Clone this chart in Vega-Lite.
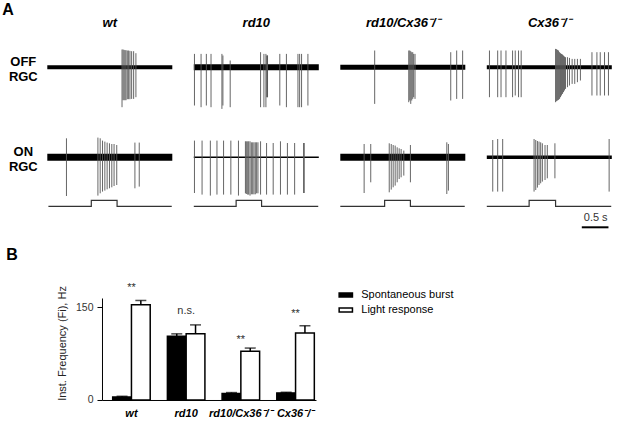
{
  "$schema": "https://vega.github.io/schema/vega-lite/v6.json",
  "background": "white",
  "padding": {"left": 2.3, "top": 2, "right": 5, "bottom": 5},
  "config": {"font": "Liberation Sans", "view": {"stroke": null}, "axis": {"grid": false}},
  "spacing": 17,
  "resolve": {"legend": {"fill": "independent"}},
  "vconcat": [
    {
      "title": {"text": "A", "anchor": "start", "fontSize": 16, "fontWeight": "bold", "color": "black", "frame": "group", "offset": -1, "dx": -45},
      "data": {"values": [
        {"g":"wt","c":"OFF RGC","k":"base","t":0,"t2":2.25,"lo":-2,"hi":2},
        {"g":"wt","c":"ON RGC","k":"base","t":0,"t2":2.25,"lo":-3.5,"hi":3.5},
        {"g":"rd10","c":"OFF RGC","k":"base","t":0,"t2":2.25,"lo":-3,"hi":3},
        {"g":"rd10","c":"ON RGC","k":"base","t":0,"t2":2.25,"lo":-0.8,"hi":0.8},
        {"g":"rd10/Cx36⁻/⁻","c":"OFF RGC","k":"base","t":0,"t2":2.25,"lo":-2.5,"hi":2.5},
        {"g":"rd10/Cx36⁻/⁻","c":"ON RGC","k":"base","t":0,"t2":2.25,"lo":-3.5,"hi":3.5},
        {"g":"Cx36⁻/⁻","c":"OFF RGC","k":"base","t":0,"t2":2.25,"lo":-2,"hi":2},
        {"g":"Cx36⁻/⁻","c":"ON RGC","k":"base","t":0,"t2":2.25,"lo":-1.8,"hi":1.8},

        {"g":"wt","c":"OFF RGC","k":"s","t":1.345,"lo":-40,"hi":17.7},
        {"g":"wt","c":"OFF RGC","k":"s","t":1.363,"lo":-33,"hi":17.7},
        {"g":"wt","c":"OFF RGC","k":"s","t":1.381,"lo":-33,"hi":17.3},
        {"g":"wt","c":"OFF RGC","k":"s","t":1.399,"lo":-33,"hi":17},
        {"g":"wt","c":"OFF RGC","k":"s","t":1.417,"lo":-33,"hi":17},
        {"g":"wt","c":"OFF RGC","k":"s","t":1.44,"lo":-32,"hi":16.7},
        {"g":"wt","c":"OFF RGC","k":"s","t":1.464,"lo":-32,"hi":16.7},
        {"g":"wt","c":"OFF RGC","k":"s","t":1.488,"lo":-32,"hi":16.3},
        {"g":"wt","c":"OFF RGC","k":"s","t":1.518,"lo":-31.7,"hi":16},
        {"g":"wt","c":"OFF RGC","k":"s","t":1.554,"lo":-31.7,"hi":16},
        {"g":"wt","c":"OFF RGC","k":"s","t":1.595,"lo":-30,"hi":14},

        {"g":"wt","c":"ON RGC","k":"s","t":0.345,"lo":-38.7,"hi":19},
        {"g":"wt","c":"ON RGC","k":"s","t":0.911,"lo":-38.3,"hi":19.7},
        {"g":"wt","c":"ON RGC","k":"s","t":0.952,"lo":-36,"hi":19},
        {"g":"wt","c":"ON RGC","k":"s","t":0.994,"lo":-34.3,"hi":16.7},
        {"g":"wt","c":"ON RGC","k":"s","t":1.036,"lo":-33.3,"hi":15.7},
        {"g":"wt","c":"ON RGC","k":"s","t":1.077,"lo":-32,"hi":14.7},
        {"g":"wt","c":"ON RGC","k":"s","t":1.119,"lo":-31,"hi":14},
        {"g":"wt","c":"ON RGC","k":"s","t":1.161,"lo":-30,"hi":13.3},
        {"g":"wt","c":"ON RGC","k":"s","t":1.202,"lo":-28.7,"hi":13.3},
        {"g":"wt","c":"ON RGC","k":"s","t":1.25,"lo":-27.7,"hi":12.3},
        {"g":"wt","c":"ON RGC","k":"s","t":1.577,"lo":-31,"hi":14.7},
        {"g":"wt","c":"ON RGC","k":"s","t":1.655,"lo":-29.3,"hi":14.7},

        {"g":"rd10","c":"OFF RGC","k":"s","t":0.012,"lo":-38.3,"hi":13.3},
        {"g":"rd10","c":"OFF RGC","k":"s","t":0.131,"lo":-40,"hi":13.3},
        {"g":"rd10","c":"OFF RGC","k":"s","t":0.226,"lo":-38.3,"hi":13.3},
        {"g":"rd10","c":"OFF RGC","k":"s","t":0.31,"lo":-40,"hi":13.3},
        {"g":"rd10","c":"OFF RGC","k":"s","t":0.506,"lo":-41.7,"hi":13.3},
        {"g":"rd10","c":"OFF RGC","k":"s","t":0.524,"lo":-38.3,"hi":11.7},
        {"g":"rd10","c":"OFF RGC","k":"s","t":0.655,"lo":-40,"hi":6.7},
        {"g":"rd10","c":"OFF RGC","k":"s","t":1.202,"lo":-40,"hi":15},
        {"g":"rd10","c":"OFF RGC","k":"s","t":1.262,"lo":-40,"hi":13.3},
        {"g":"rd10","c":"OFF RGC","k":"s","t":1.298,"lo":-40,"hi":13.3},
        {"g":"rd10","c":"OFF RGC","k":"s","t":1.315,"lo":-30,"hi":11.7},
        {"g":"rd10","c":"OFF RGC","k":"s","t":1.321,"lo":-30,"hi":11.7},
        {"g":"rd10","c":"OFF RGC","k":"s","t":1.327,"lo":-30,"hi":11.7},
        {"g":"rd10","c":"OFF RGC","k":"s","t":1.548,"lo":-38.3,"hi":13.3},
        {"g":"rd10","c":"OFF RGC","k":"s","t":1.667,"lo":-40,"hi":13.3},
        {"g":"rd10","c":"OFF RGC","k":"s","t":1.875,"lo":-40,"hi":13.3},
        {"g":"rd10","c":"OFF RGC","k":"s","t":1.905,"lo":-40,"hi":13.3},
        {"g":"rd10","c":"OFF RGC","k":"s","t":1.94,"lo":-40,"hi":13.3},
        {"g":"rd10","c":"OFF RGC","k":"s","t":2.054,"lo":-38.3,"hi":13.3},

        {"g":"rd10","c":"ON RGC","k":"s","t":0.012,"lo":-35.7,"hi":16.7},
        {"g":"rd10","c":"ON RGC","k":"s","t":0.149,"lo":-37.3,"hi":16.7},
        {"g":"rd10","c":"ON RGC","k":"s","t":0.298,"lo":-38.3,"hi":16.7},
        {"g":"rd10","c":"ON RGC","k":"s","t":0.417,"lo":-37.3,"hi":16.7},
        {"g":"rd10","c":"ON RGC","k":"s","t":0.536,"lo":-37.3,"hi":16.7},
        {"g":"rd10","c":"ON RGC","k":"s","t":0.667,"lo":-37.3,"hi":16.7},
        {"g":"rd10","c":"ON RGC","k":"s","t":0.804,"lo":-38.3,"hi":16.7},
        {"g":"rd10","c":"ON RGC","k":"s","t":0.929,"lo":-36,"hi":16},
        {"g":"rd10","c":"ON RGC","k":"s","t":0.946,"lo":-36.7,"hi":16},
        {"g":"rd10","c":"ON RGC","k":"s","t":0.97,"lo":-37.3,"hi":16},
        {"g":"rd10","c":"ON RGC","k":"s","t":0.988,"lo":-37.3,"hi":16},
        {"g":"rd10","c":"ON RGC","k":"s","t":1.012,"lo":-38.3,"hi":16},
        {"g":"rd10","c":"ON RGC","k":"s","t":1.036,"lo":-37,"hi":15},
        {"g":"rd10","c":"ON RGC","k":"s","t":1.06,"lo":-37,"hi":15},
        {"g":"rd10","c":"ON RGC","k":"s","t":1.083,"lo":-37,"hi":15},
        {"g":"rd10","c":"ON RGC","k":"s","t":1.107,"lo":-37,"hi":15},
        {"g":"rd10","c":"ON RGC","k":"s","t":1.131,"lo":-36,"hi":15},
        {"g":"rd10","c":"ON RGC","k":"s","t":1.155,"lo":-36,"hi":15},
        {"g":"rd10","c":"ON RGC","k":"s","t":1.202,"lo":-37.3,"hi":16},
        {"g":"rd10","c":"ON RGC","k":"s","t":1.31,"lo":-37.3,"hi":14.3},
        {"g":"rd10","c":"ON RGC","k":"s","t":1.429,"lo":-37.3,"hi":14.3},
        {"g":"rd10","c":"ON RGC","k":"s","t":1.56,"lo":-37.3,"hi":16},
        {"g":"rd10","c":"ON RGC","k":"s","t":1.685,"lo":-37.3,"hi":14.3},
        {"g":"rd10","c":"ON RGC","k":"s","t":1.815,"lo":-37.3,"hi":14.3},
        {"g":"rd10","c":"ON RGC","k":"s","t":1.976,"lo":-35.7,"hi":14.3},
        {"g":"rd10","c":"ON RGC","k":"s","t":1.988,"lo":-35.7,"hi":14.3},

        {"g":"rd10/Cx36⁻/⁻","c":"OFF RGC","k":"s","t":0.619,"lo":-36.7,"hi":16.7},
        {"g":"rd10/Cx36⁻/⁻","c":"OFF RGC","k":"s","t":1.232,"lo":-35,"hi":16.7},
        {"g":"rd10/Cx36⁻/⁻","c":"OFF RGC","k":"s","t":1.25,"lo":-33.3,"hi":16.7},
        {"g":"rd10/Cx36⁻/⁻","c":"OFF RGC","k":"s","t":1.268,"lo":-36.7,"hi":16},
        {"g":"rd10/Cx36⁻/⁻","c":"OFF RGC","k":"s","t":1.286,"lo":-33.3,"hi":15},
        {"g":"rd10/Cx36⁻/⁻","c":"OFF RGC","k":"s","t":1.304,"lo":-31.7,"hi":15},
        {"g":"rd10/Cx36⁻/⁻","c":"OFF RGC","k":"s","t":1.321,"lo":-30,"hi":13.3},
        {"g":"rd10/Cx36⁻/⁻","c":"OFF RGC","k":"s","t":1.345,"lo":-31.7,"hi":13.3},
        {"g":"rd10/Cx36⁻/⁻","c":"OFF RGC","k":"s","t":1.988,"lo":-33.3,"hi":15},
        {"g":"rd10/Cx36⁻/⁻","c":"OFF RGC","k":"s","t":2.095,"lo":-31.7,"hi":16.7},
        {"g":"rd10/Cx36⁻/⁻","c":"OFF RGC","k":"s","t":2.202,"lo":-31.7,"hi":16.7},

        {"g":"rd10/Cx36⁻/⁻","c":"ON RGC","k":"s","t":0.429,"lo":-35.7,"hi":13.3},
        {"g":"rd10/Cx36⁻/⁻","c":"ON RGC","k":"s","t":0.548,"lo":-25,"hi":13.3},
        {"g":"rd10/Cx36⁻/⁻","c":"ON RGC","k":"s","t":0.881,"lo":-35,"hi":14},
        {"g":"rd10/Cx36⁻/⁻","c":"ON RGC","k":"s","t":0.917,"lo":-32.3,"hi":13.3},
        {"g":"rd10/Cx36⁻/⁻","c":"ON RGC","k":"s","t":0.952,"lo":-30,"hi":12.3},
        {"g":"rd10/Cx36⁻/⁻","c":"ON RGC","k":"s","t":0.988,"lo":-28.3,"hi":11.7},
        {"g":"rd10/Cx36⁻/⁻","c":"ON RGC","k":"s","t":1.024,"lo":-25,"hi":10},
        {"g":"rd10/Cx36⁻/⁻","c":"ON RGC","k":"s","t":1.06,"lo":-21.7,"hi":9},
        {"g":"rd10/Cx36⁻/⁻","c":"ON RGC","k":"s","t":1.095,"lo":-20,"hi":8.3},
        {"g":"rd10/Cx36⁻/⁻","c":"ON RGC","k":"s","t":1.143,"lo":-18.3,"hi":6.7},
        {"g":"rd10/Cx36⁻/⁻","c":"ON RGC","k":"s","t":1.262,"lo":-25,"hi":12.3},
        {"g":"rd10/Cx36⁻/⁻","c":"ON RGC","k":"s","t":1.917,"lo":-36.7,"hi":15},
        {"g":"rd10/Cx36⁻/⁻","c":"ON RGC","k":"s","t":1.946,"lo":-33.3,"hi":13.3},

        {"g":"Cx36⁻/⁻","c":"OFF RGC","k":"s","t":0.048,"lo":-30,"hi":16.7},
        {"g":"Cx36⁻/⁻","c":"OFF RGC","k":"s","t":0.196,"lo":-30,"hi":16.7},
        {"g":"Cx36⁻/⁻","c":"OFF RGC","k":"s","t":0.256,"lo":-30,"hi":16.7},
        {"g":"Cx36⁻/⁻","c":"OFF RGC","k":"s","t":0.345,"lo":-30,"hi":16.7},
        {"g":"Cx36⁻/⁻","c":"OFF RGC","k":"s","t":0.464,"lo":-30,"hi":16.7},
        {"g":"Cx36⁻/⁻","c":"OFF RGC","k":"s","t":0.512,"lo":-28.3,"hi":16.7},
        {"g":"Cx36⁻/⁻","c":"OFF RGC","k":"s","t":0.571,"lo":-30,"hi":16.7},
        {"g":"Cx36⁻/⁻","c":"OFF RGC","k":"s","t":0.619,"lo":-30,"hi":16.7},
        {"g":"Cx36⁻/⁻","c":"OFF RGC","k":"s","t":1.238,"lo":-35,"hi":18.3},
        {"g":"Cx36⁻/⁻","c":"OFF RGC","k":"s","t":1.256,"lo":-34,"hi":18},
        {"g":"Cx36⁻/⁻","c":"OFF RGC","k":"s","t":1.274,"lo":-33.3,"hi":17.3},
        {"g":"Cx36⁻/⁻","c":"OFF RGC","k":"s","t":1.292,"lo":-32.7,"hi":16.7},
        {"g":"Cx36⁻/⁻","c":"OFF RGC","k":"s","t":1.31,"lo":-31.7,"hi":15},
        {"g":"Cx36⁻/⁻","c":"OFF RGC","k":"s","t":1.327,"lo":-30,"hi":14},
        {"g":"Cx36⁻/⁻","c":"OFF RGC","k":"s","t":1.345,"lo":-28.3,"hi":13.3},
        {"g":"Cx36⁻/⁻","c":"OFF RGC","k":"s","t":1.363,"lo":-26.7,"hi":12.7},
        {"g":"Cx36⁻/⁻","c":"OFF RGC","k":"s","t":1.381,"lo":-25,"hi":11.7},
        {"g":"Cx36⁻/⁻","c":"OFF RGC","k":"s","t":1.399,"lo":-23.3,"hi":10.7},
        {"g":"Cx36⁻/⁻","c":"OFF RGC","k":"s","t":1.417,"lo":-21.7,"hi":10},
        {"g":"Cx36⁻/⁻","c":"OFF RGC","k":"s","t":1.452,"lo":-20,"hi":10},
        {"g":"Cx36⁻/⁻","c":"OFF RGC","k":"s","t":1.488,"lo":-18.3,"hi":9.3},
        {"g":"Cx36⁻/⁻","c":"OFF RGC","k":"s","t":1.536,"lo":-16.7,"hi":8.3},
        {"g":"Cx36⁻/⁻","c":"OFF RGC","k":"s","t":1.583,"lo":-16.7,"hi":8.3},
        {"g":"Cx36⁻/⁻","c":"OFF RGC","k":"s","t":1.631,"lo":-15,"hi":8.3},
        {"g":"Cx36⁻/⁻","c":"OFF RGC","k":"s","t":1.685,"lo":-13.3,"hi":8.3},
        {"g":"Cx36⁻/⁻","c":"OFF RGC","k":"s","t":1.893,"lo":-28.3,"hi":15},
        {"g":"Cx36⁻/⁻","c":"OFF RGC","k":"s","t":1.982,"lo":-28.3,"hi":15},
        {"g":"Cx36⁻/⁻","c":"OFF RGC","k":"s","t":2.042,"lo":-28.3,"hi":15},
        {"g":"Cx36⁻/⁻","c":"OFF RGC","k":"s","t":2.119,"lo":-28.3,"hi":15},
        {"g":"Cx36⁻/⁻","c":"OFF RGC","k":"s","t":2.19,"lo":-28.3,"hi":15},

        {"g":"Cx36⁻/⁻","c":"ON RGC","k":"s","t":0.107,"lo":-34.3,"hi":17.3},
        {"g":"Cx36⁻/⁻","c":"ON RGC","k":"s","t":0.196,"lo":-34.3,"hi":18.3},
        {"g":"Cx36⁻/⁻","c":"ON RGC","k":"s","t":0.286,"lo":-34.3,"hi":18.3},
        {"g":"Cx36⁻/⁻","c":"ON RGC","k":"s","t":0.851,"lo":-34.3,"hi":18.3},
        {"g":"Cx36⁻/⁻","c":"ON RGC","k":"s","t":0.881,"lo":-32.7,"hi":17.3},
        {"g":"Cx36⁻/⁻","c":"ON RGC","k":"s","t":0.911,"lo":-30.3,"hi":16.3},
        {"g":"Cx36⁻/⁻","c":"ON RGC","k":"s","t":0.94,"lo":-27.7,"hi":15.7},
        {"g":"Cx36⁻/⁻","c":"ON RGC","k":"s","t":0.97,"lo":-26,"hi":15},
        {"g":"Cx36⁻/⁻","c":"ON RGC","k":"s","t":1.0,"lo":-24.3,"hi":14},
        {"g":"Cx36⁻/⁻","c":"ON RGC","k":"s","t":1.048,"lo":-22.7,"hi":12.3},
        {"g":"Cx36⁻/⁻","c":"ON RGC","k":"s","t":1.089,"lo":-21,"hi":12.3},
        {"g":"Cx36⁻/⁻","c":"ON RGC","k":"s","t":1.226,"lo":-21,"hi":14},
        {"g":"Cx36⁻/⁻","c":"ON RGC","k":"s","t":2.202,"lo":-34.3,"hi":18.3},

        {"g":"wt","c":"ON RGC","k":"stim","o":1,"t":0.02,"lo":-49},
        {"g":"wt","c":"ON RGC","k":"stim","o":2,"t":0.792,"lo":-49},
        {"g":"wt","c":"ON RGC","k":"stim","o":3,"t":0.792,"lo":-43},
        {"g":"wt","c":"ON RGC","k":"stim","o":4,"t":1.256,"lo":-43},
        {"g":"wt","c":"ON RGC","k":"stim","o":5,"t":1.256,"lo":-49},
        {"g":"wt","c":"ON RGC","k":"stim","o":6,"t":2.24,"lo":-49},
        {"g":"rd10","c":"ON RGC","k":"stim","o":1,"t":0.0,"lo":-49},
        {"g":"rd10","c":"ON RGC","k":"stim","o":2,"t":0.762,"lo":-49},
        {"g":"rd10","c":"ON RGC","k":"stim","o":3,"t":0.762,"lo":-43},
        {"g":"rd10","c":"ON RGC","k":"stim","o":4,"t":1.22,"lo":-43},
        {"g":"rd10","c":"ON RGC","k":"stim","o":5,"t":1.22,"lo":-49},
        {"g":"rd10","c":"ON RGC","k":"stim","o":6,"t":2.24,"lo":-49},
        {"g":"rd10/Cx36⁻/⁻","c":"ON RGC","k":"stim","o":1,"t":0.0,"lo":-49},
        {"g":"rd10/Cx36⁻/⁻","c":"ON RGC","k":"stim","o":2,"t":0.798,"lo":-49},
        {"g":"rd10/Cx36⁻/⁻","c":"ON RGC","k":"stim","o":3,"t":0.798,"lo":-43},
        {"g":"rd10/Cx36⁻/⁻","c":"ON RGC","k":"stim","o":4,"t":1.262,"lo":-43},
        {"g":"rd10/Cx36⁻/⁻","c":"ON RGC","k":"stim","o":5,"t":1.262,"lo":-49},
        {"g":"rd10/Cx36⁻/⁻","c":"ON RGC","k":"stim","o":6,"t":2.24,"lo":-49},
        {"g":"Cx36⁻/⁻","c":"ON RGC","k":"stim","o":1,"t":0.0,"lo":-49},
        {"g":"Cx36⁻/⁻","c":"ON RGC","k":"stim","o":2,"t":0.762,"lo":-49},
        {"g":"Cx36⁻/⁻","c":"ON RGC","k":"stim","o":3,"t":0.762,"lo":-43},
        {"g":"Cx36⁻/⁻","c":"ON RGC","k":"stim","o":4,"t":1.238,"lo":-43},
        {"g":"Cx36⁻/⁻","c":"ON RGC","k":"stim","o":5,"t":1.238,"lo":-49},
        {"g":"Cx36⁻/⁻","c":"ON RGC","k":"stim","o":6,"t":2.24,"lo":-49},

        {"g":"Cx36⁻/⁻","c":"ON RGC","k":"bar","t":1.71,"t2":2.19,"lo":-70},
        {"g":"Cx36⁻/⁻","c":"ON RGC","k":"lab","t":1.96,"lo":-61,"txt":"0.5 s"}
      ]},
      "facet": {
        "row": {"field": "c", "type": "nominal", "title": null,
          "header": {"labelAngle": 0, "labelAlign": "center", "labelBaseline": "bottom", "labelFontSize": 13, "labelFontWeight": "bold", "labelColor": "black", "labelPadding": -4.9, "labelLineHeight": 15.3,
            "labelExpr": "datum.value == 'OFF RGC' ? ['OFF', 'RGC'] : ['ON', 'RGC']"}},
        "column": {"field": "g", "type": "nominal", "title": null, "sort": ["wt", "rd10", "rd10/Cx36⁻/⁻", "Cx36⁻/⁻"],
          "header": {"labelFontSize": 13, "labelFontWeight": "bold", "labelFontStyle": "italic", "labelColor": "black", "labelPadding": 0}}
      },
      "bounds": "flush",
      "spacing": {"row": 12.1, "column": 21.5},
      "spec": {
        "width": 125,
        "height": 77.2,
        "layer": [
          {
            "transform": [{"filter": "datum.k == 'base'"}],
            "mark": {"type": "rect", "color": "black"},
            "encoding": {
              "x": {"field": "t", "type": "quantitative", "scale": {"domain": [0, 2.25], "nice": false, "zero": false}, "axis": null},
              "x2": {"field": "t2"},
              "y": {"field": "lo", "type": "quantitative", "scale": {"domain": [-40, 37.2], "nice": false, "zero": false}, "axis": null},
              "y2": {"field": "hi"}
            }
          },
          {
            "transform": [{"filter": "datum.k == 's'"}],
            "mark": {"type": "rule", "color": "#555555", "strokeWidth": 0.9},
            "encoding": {
              "x": {"field": "t", "type": "quantitative"},
              "y": {"field": "lo", "type": "quantitative"},
              "y2": {"field": "hi"}
            }
          },
          {
            "transform": [{"filter": "datum.k == 'stim'"}],
            "mark": {"type": "line", "color": "#333333", "strokeWidth": 1.2},
            "encoding": {
              "x": {"field": "t", "type": "quantitative"},
              "y": {"field": "lo", "type": "quantitative"},
              "order": {"field": "o", "type": "quantitative"}
            }
          },
          {
            "transform": [{"filter": "datum.k == 'bar'"}],
            "mark": {"type": "rule", "color": "black", "strokeWidth": 2},
            "encoding": {
              "x": {"field": "t", "type": "quantitative"},
              "x2": {"field": "t2"},
              "y": {"field": "lo", "type": "quantitative"}
            }
          },
          {
            "transform": [{"filter": "datum.k == 'lab'"}],
            "mark": {"type": "text", "fontSize": 11, "color": "#333333", "baseline": "middle"},
            "encoding": {
              "x": {"field": "t", "type": "quantitative"},
              "y": {"field": "lo", "type": "quantitative"},
              "text": {"field": "txt"}
            }
          }
        ]
      }
    },
    {
      "width": 268.7,
      "height": 102,
      "resolve": {"scale": {"x": "independent"}, "axis": {"x": "independent"}},
      "layer": [
        {
          "data": {"name": "bars", "values": [
            {"g":"wt","s":"Spontaneous burst","v":5,"up":6},
            {"g":"wt","s":"Light response","v":154,"up":161},
            {"g":"rd10","s":"Spontaneous burst","v":103,"up":107},
            {"g":"rd10","s":"Light response","v":107,"up":121.5},
            {"g":"rd10/Cx36⁻/⁻","s":"Spontaneous burst","v":10.5,"up":12},
            {"g":"rd10/Cx36⁻/⁻","s":"Light response","v":79,"up":84},
            {"g":"Cx36⁻/⁻","s":"Spontaneous burst","v":11.5,"up":12.5},
            {"g":"Cx36⁻/⁻","s":"Light response","v":108.5,"up":120}
          ]},
          "layer": [
            {
              "mark": {"type": "bar", "stroke": "black", "strokeWidth": 1.5},
              "encoding": {
                "x": {"field": "g", "type": "nominal", "sort": ["wt", "rd10", "rd10/Cx36⁻/⁻", "Cx36⁻/⁻"],
                  "scale": {"paddingInner": 0.314, "paddingOuter": 0.613, "align": 0.975},
                  "axis": {"orient": "bottom", "title": null, "ticks": false, "domainColor": "black", "domainWidth": 1, "domainDash": [0, 54.7, 214, 3000], "labelAngle": 0, "labelFontSize": 11, "labelFontWeight": "bold", "labelFontStyle": "italic", "labelColor": "black", "labelPadding": 8}},
                "xOffset": {"field": "s", "type": "nominal", "sort": ["Spontaneous burst", "Light response"]},
                "y": {"field": "v", "type": "quantitative", "scale": {"domain": [0, 165], "nice": false},
                  "axis": {"title": "Inst. Frequency (Fi), Hz", "offset": -54.7, "values": [0, 50, 100, 150], "domainColor": "black", "tickColor": "black", "tickSize": 5, "labelFontSize": 10.5, "labelColor": "#333333", "labelPadding": 4, "titleFontSize": 11, "titleFontWeight": "normal", "titleColor": "#222222", "titleX": -39, "titleY": 45, "titleAngle": -90, "titleAlign": "center", "titleBaseline": "middle"}},
                "fill": {"field": "s", "type": "nominal", "sort": ["Spontaneous burst", "Light response"],
                  "scale": {"domain": ["Spontaneous burst", "Light response"], "range": ["black", "white"]},
                  "legend": {"title": null, "orient": "none", "legendX": 291, "legendY": -10.5, "symbolType": "M-1,-0.3H1V0.3H-1Z", "symbolSize": 177, "symbolStrokeColor": "black", "symbolStrokeWidth": 1.5, "labelFontSize": 11, "labelColor": "black", "labelOffset": 8, "rowPadding": 2}}
              }
            },
            {
              "mark": {"type": "rule", "color": "black", "strokeWidth": 1.5},
              "encoding": {
                "x": {"field": "g", "type": "nominal", "sort": ["wt", "rd10", "rd10/Cx36⁻/⁻", "Cx36⁻/⁻"]},
                "xOffset": {"field": "s", "type": "nominal", "sort": ["Spontaneous burst", "Light response"]},
                "y": {"field": "v", "type": "quantitative"},
                "y2": {"field": "up"}
              }
            },
            {
              "mark": {"type": "tick", "color": "black", "thickness": 1.5, "size": 11},
              "encoding": {
                "x": {"field": "g", "type": "nominal", "sort": ["wt", "rd10", "rd10/Cx36⁻/⁻", "Cx36⁻/⁻"]},
                "xOffset": {"field": "s", "type": "nominal", "sort": ["Spontaneous burst", "Light response"]},
                "y": {"field": "up", "type": "quantitative"}
              }
            }
          ]
        },
        {
          "data": {"values": [
            {"g":"wt","y":175.6,"label":"**"},
            {"g":"rd10","y":139.8,"label":"n.s."},
            {"g":"rd10/Cx36⁻/⁻","y":92.8,"label":"**"},
            {"g":"Cx36⁻/⁻","y":134.9,"label":"**"}
          ]},
          "mark": {"type": "text", "fontSize": 11, "color": "#333333", "baseline": "alphabetic"},
          "encoding": {
            "x": {"field": "g", "type": "nominal", "sort": ["wt", "rd10", "rd10/Cx36⁻/⁻", "Cx36⁻/⁻"], "bandPosition": 0.5,
              "scale": {"type": "band", "paddingInner": 0.314, "paddingOuter": 0.613, "align": 0.975},
              "axis": {"orient": "top", "labels": false, "ticks": false, "domain": false, "title": "B", "titleFontSize": 16, "titleFontWeight": "bold", "titleColor": "black", "titleX": -41.5, "titleY": -38.7, "titleAlign": "left", "titleBaseline": "alphabetic", "titleAngle": 0}},
            "y": {"field": "y", "type": "quantitative"},
            "text": {"field": "label"}
          }
        }
      ]
    }
  ]
}
